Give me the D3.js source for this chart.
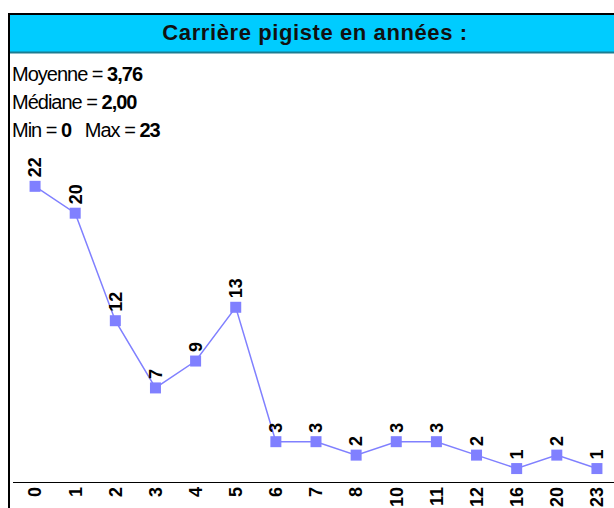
<!DOCTYPE html>
<html>
<head>
<meta charset="utf-8">
<script src="https://cdn.jsdelivr.net/npm/d3@7"></script>
<style>
  body { margin: 0; background: #fff; }
  svg { display: block; font-family: Arial, "Liberation Sans", sans-serif; }
</style>
</head>
<body>
<div id="chart"></div>
<script>
// chart data
var years = ['0', '1', '2', '3', '4', '5', '6', '7', '8', '10', '11', '12', '16', '20', '23'];
var counts = [22, 20, 12, 7, 9, 13, 3, 3, 2, 3, 3, 2, 1, 2, 1];
var titleText = 'Carrière pigiste en années :';
var statsLines = [
  [['Moyenne = ', false], ['3,76', true]],
  [['Médiane = ', false], ['2,00', true]],
  [['Min = ', false], ['0', true], ['   Max = ', false], ['23', true]]
];

var width = 614, height = 508;

var svg = d3.select('#chart')
  .append('svg')
    .attr('width', width)
    .attr('height', height);

// frame + title bar
svg.append('rect')
  .attr('x', 9).attr('y', 14)
  .attr('width', 620).attr('height', 38)
  .attr('fill', '#00ccff');
svg.append('line')
  .attr('x1', 9).attr('x2', width)
  .attr('y1', 52.5).attr('y2', 52.5)
  .attr('stroke', '#1c7d92').attr('stroke-width', 2);
svg.append('line')
  .attr('x1', 8).attr('x2', width)
  .attr('y1', 14).attr('y2', 14)
  .attr('stroke', '#000').attr('stroke-width', 2);
svg.append('line')
  .attr('x1', 9).attr('x2', 9)
  .attr('y1', 13).attr('y2', height)
  .attr('stroke', '#000').attr('stroke-width', 2);

svg.append('text')
  .attr('x', 315).attr('y', 40)
  .attr('text-anchor', 'middle')
  .attr('font-size', 22)
  .attr('font-weight', 'bold')
  .attr('letter-spacing', 0.6)
  .attr('fill', '#111')
  .text(titleText);

// stats block
statsLines.forEach(function(parts, i) {
  var t = svg.append('text')
    .attr('x', 12).attr('y', 81 + i * 28)
    .attr('font-size', 20)
    .attr('letter-spacing', -1)
    .style('white-space', 'pre');
  parts.forEach(function(p) {
    t.append('tspan')
      .attr('font-weight', p[1] ? 'bold' : 'normal')
      .text(p[0]);
  });
});

// scales
var x = d3.scaleBand()
  .domain(years)
  .range([15, 617]);
var y = d3.scaleLinear()
  .domain([0, 25])
  .range([482, 146]);

var cx = function(d, i) { return x(years[i]) + x.bandwidth() / 2; };

// x axis
svg.append('line')
  .attr('x1', 13).attr('x2', width)
  .attr('y1', 482.5).attr('y2', 482.5)
  .attr('stroke', '#000').attr('stroke-width', 1);

var xAxis = svg.append('g')
  .attr('transform', 'translate(0,482)')
  .call(d3.axisBottom(x).tickSize(0).tickPadding(0));
xAxis.select('.domain').remove();
xAxis.selectAll('text')
  .attr('font-size', 18)
  .attr('font-weight', 'bold')
  .attr('font-family', 'Arial, "Liberation Sans", sans-serif')
  .attr('fill', '#000')
  .attr('text-anchor', 'end')
  .attr('transform', 'rotate(-90)')
  .attr('x', -5)
  .attr('y', 0)
  .attr('dy', '0.35em');

// line
var line = d3.line()
  .x(cx)
  .y(function(d) { return y(d); });

svg.append('path')
  .datum(counts)
  .attr('d', line)
  .attr('fill', 'none')
  .attr('stroke', '#8080ff')
  .attr('stroke-width', 1.5);

// markers
svg.selectAll('.marker')
  .data(counts)
  .enter()
  .append('rect')
    .attr('class', 'marker')
    .attr('x', function(d, i) { return cx(d, i) - 5.5; })
    .attr('y', function(d) { return y(d) - 5.5; })
    .attr('width', 11)
    .attr('height', 11)
    .attr('fill', '#8080ff');

// value labels
svg.selectAll('.val')
  .data(counts)
  .enter()
  .append('text')
    .attr('class', 'val')
    .attr('font-size', 18)
    .attr('font-weight', 'bold')
    .attr('fill', '#000')
    .attr('transform', function(d, i) {
      return 'translate(' + cx(d, i) + ',' + (y(d) - 9) + ') rotate(-90)';
    })
    .attr('dy', '0.35em')
    .text(function(d) { return d; });
</script>
</body>
</html>
